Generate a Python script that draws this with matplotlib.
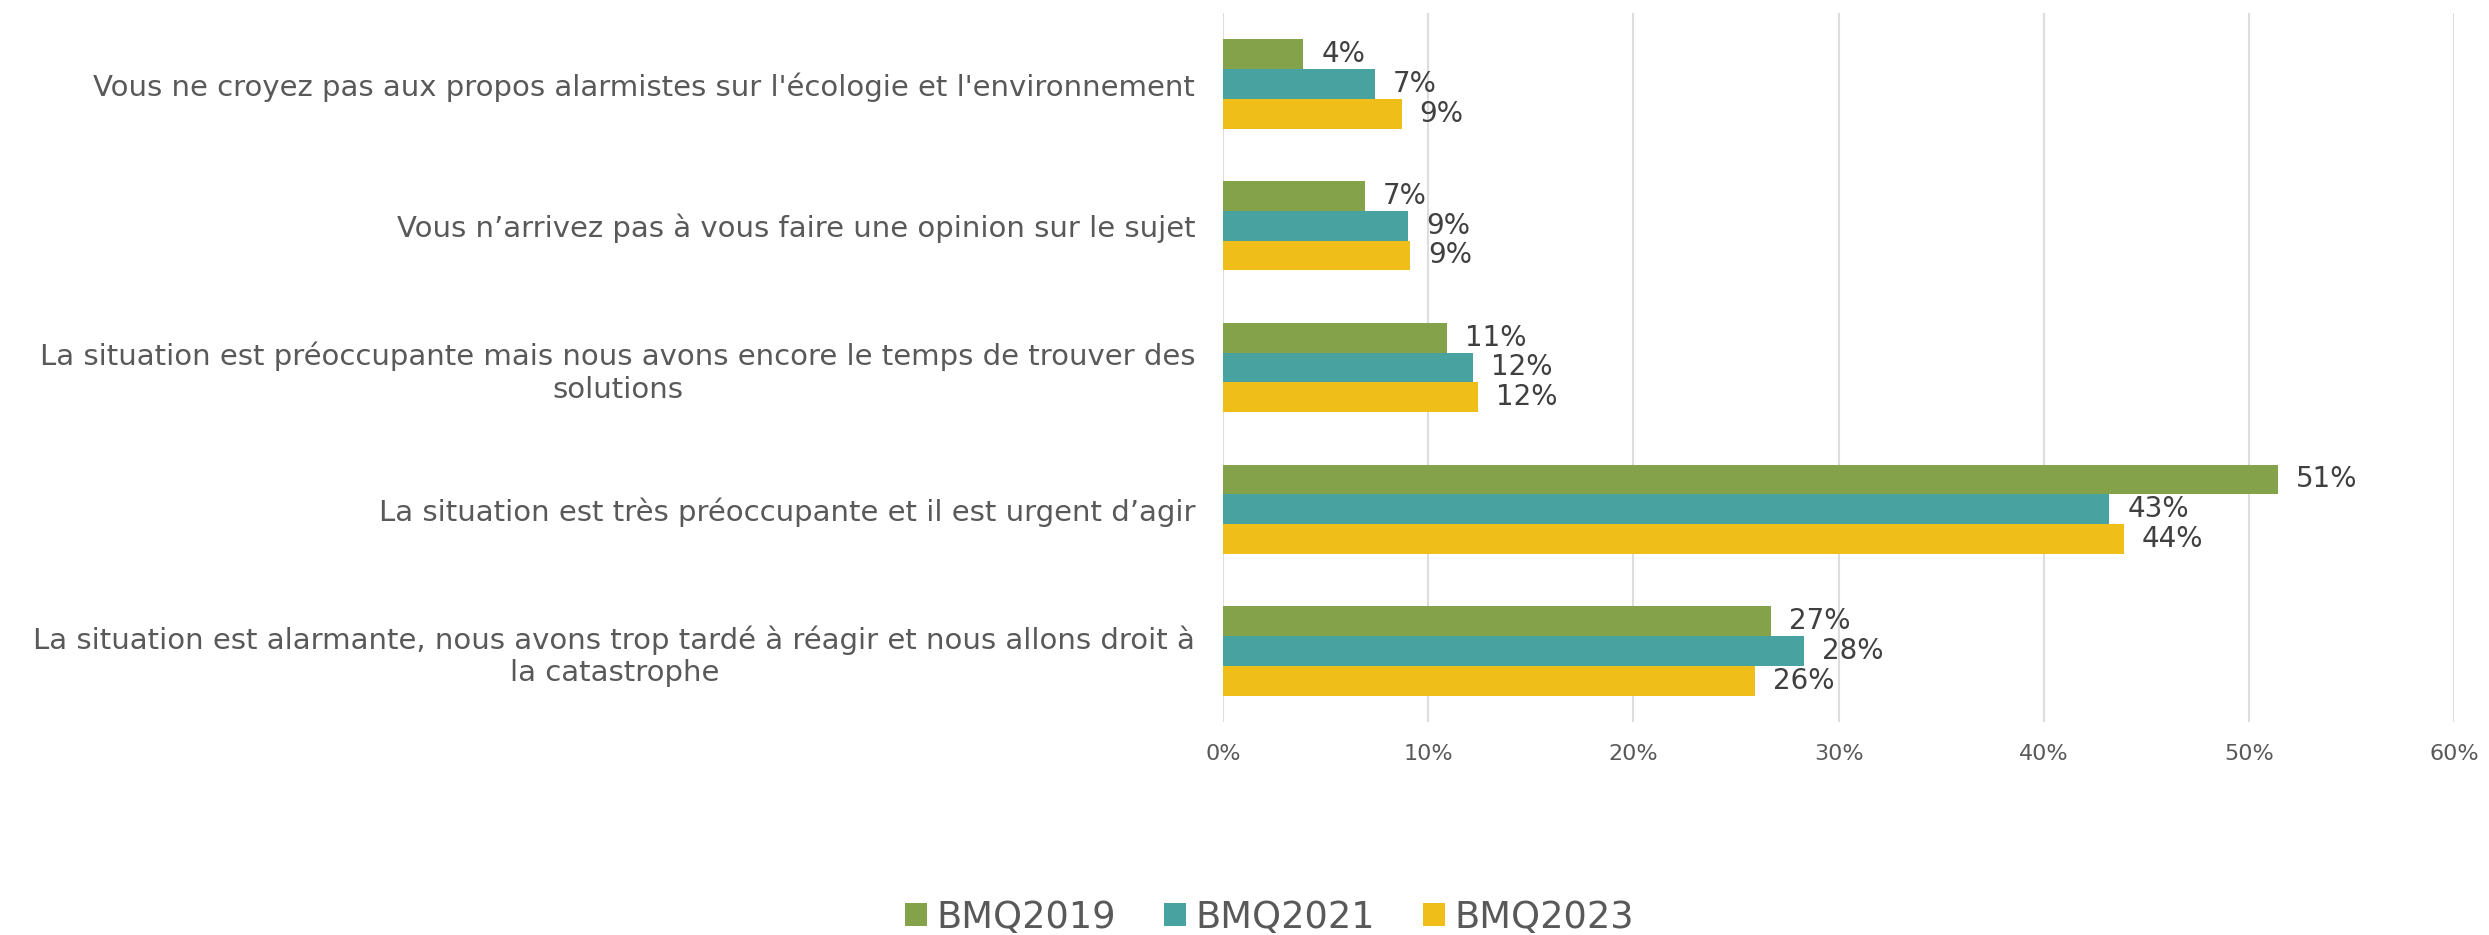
"""Horizontal grouped bar chart: opinions on the ecological situation."""

import numpy as np
import matplotlib.pyplot as plt
from matplotlib.ticker import PercentFormatter

# categories, top to bottom
categories = [
    "Vous ne croyez pas aux propos alarmistes sur l'écologie et l'environnement",
    "Vous n’arrivez pas à vous faire une opinion sur le sujet",
    "La situation est préoccupante mais nous avons encore le temps de trouver des\nsolutions",
    "La situation est très préoccupante et il est urgent d’agir",
    "La situation est alarmante, nous avons trop tardé à réagir et nous allons droit à\nla catastrophe",
]
series = ['BMQ2019', 'BMQ2021', 'BMQ2023']
bmq2019 = [3.9, 6.9, 10.9, 51.4, 26.7]
bmq2021 = [7.4, 9.0, 12.2, 43.2, 28.3]
bmq2023 = [8.7, 9.1, 12.4, 43.9, 25.9]
colors = ['#84A24A', '#48A29F', '#F0BE19']


def main():
    """Main program called during execution."""

    # initialize figure
    fig = plt.figure(figsize=(24.89, 9.35), dpi=100)
    ax = fig.add_axes([0.4914, 0.228, 0.4946, 0.758])

    # plot bars, top group first
    y = np.arange(len(categories))
    height = 0.21
    for i, (name, vals, color) in enumerate(
            zip(series, [bmq2019, bmq2021, bmq2023], colors)):
        pos = y + (i - 1) * height
        bars = ax.barh(pos, vals, height=height, color=color, label=name)
        ax.bar_label(bars, labels=[f'{v:.0f}%' for v in vals], padding=13,
                     fontsize=20, color='#404040')

    # set axes properties
    ax.set_ylim(len(categories) - 0.5, -0.5)
    ax.set_xlim(0, 60)
    ax.set_xticks(range(0, 61, 10))
    ax.xaxis.set_major_formatter(PercentFormatter(decimals=0))
    ax.set_yticks(y)
    ax.set_yticklabels(categories, fontsize=21, color='#595959',
                       multialignment='center')
    ax.tick_params(axis='x', labelsize=16, labelcolor='#595959', length=0,
                   pad=16)
    ax.tick_params(axis='y', length=0, pad=20)
    ax.grid(axis='x', color='#DDDDDD', linewidth=1.5)
    ax.set_axisbelow(True)
    for spine in ax.spines.values():
        spine.set_visible(False)

    # legend
    fig.legend(loc='center', bbox_to_anchor=(0.51, 0.019), ncol=3,
               frameon=False, fontsize=26.5, labelcolor='#595959',
               handlelength=0.6, handleheight=0.6, handletextpad=0.25,
               columnspacing=1.3)

    # save figure
    fig.savefig('out.png', dpi=100)


if __name__ == '__main__':
    main()
